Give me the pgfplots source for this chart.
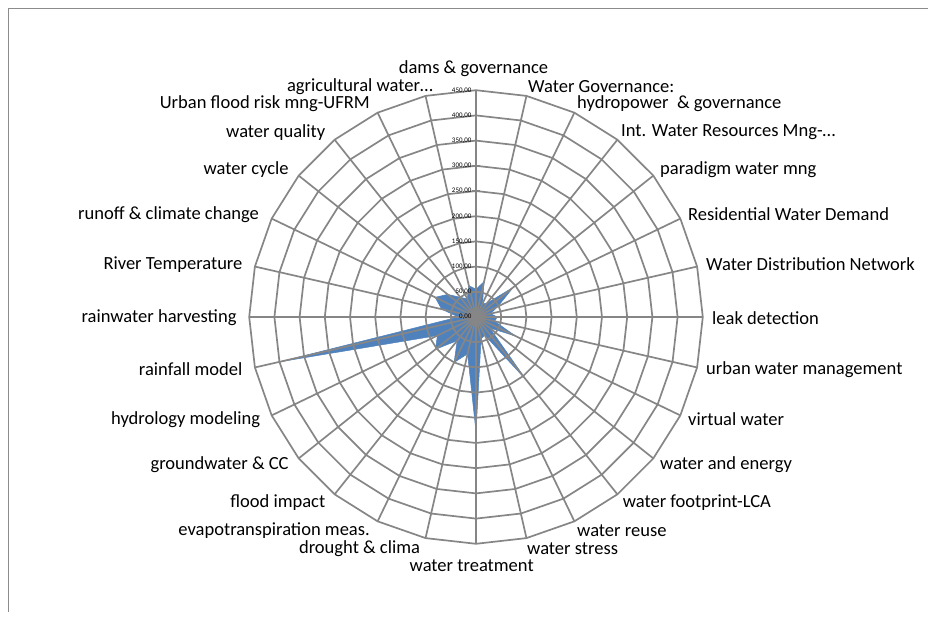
\documentclass[border=0pt]{standalone}
\usepackage{pgfplots}
\pgfplotsset{compat=1.18}
\usepackage{pgfplotstable}
\usepackage{fontspec}
\setmainfont{Carlito}
\definecolor{gridgray}{HTML}{868686}
\definecolor{fillblue}{HTML}{4F81BD}
\definecolor{framegray}{HTML}{8C8C8C}

% i = category index (clockwise from top), v = value; last row closes the polygon
\pgfplotstableread{
i v
0 55
1 72
2 30
3 35
4 95
5 48
6 30
7 42
8 38
9 87
10 35
11 160
12 40
13 45
14 228
15 75
16 100
17 60
18 103
19 85
20 400
21 35
22 70
23 90
24 72
25 50
26 40
27 64
28 55
}\radardata

\pgfplotstableread{
r
0
50
100
150
200
250
300
350
400
450
}\ticktable

\newcommand{\lab}{\fontsize{18.6}{20}\selectfont}
\begin{document}
\begin{tikzpicture}
\useasboundingbox (0,0) rectangle (928bp,-623bp);
\fill[white] (0,0) rectangle (928bp,-623bp);
\draw[framegray, line width=1bp] (8bp,-612bp) -- (8bp,-8bp) -- (928bp,-8bp);
\begin{axis}[at={(476bp,-317bp)}, anchor=origin,
  x=0.504bp, y=0.504bp,
  xmin=-460, xmax=460, ymin=-460, ymax=460,
  hide axis, clip=false,
  /pgf/number format/.cd, fixed, fixed zerofill, precision=2, use comma, assume math mode=true]
\addplot[fill=fillblue, draw=fillblue, line width=0.5bp, data cs=polar]
  table[x expr={90-\thisrow{i}*360/28}, y=v] {\radardata};
\pgfplotsinvokeforeach{50,100,...,450}{
  \addplot[gridgray, line width=1.7bp, data cs=polar]
    table[x expr={90-\thisrow{i}*360/28}, y expr=#1] {\radardata};
}
\pgfplotsinvokeforeach{0,...,27}{
  \addplot[gridgray, line width=1.7bp, data cs=polar]
    coordinates {({90-#1*360/28},0) ({90-#1*360/28},450)};
}
\addplot[gridgray, only marks, mark=-, mark size=4bp, mark options={line width=1.2bp},
  nodes near coords, point meta=y,
  every node near coord/.append style={anchor=east, inner sep=0pt, xshift=-4bp,
    text=black, font=\fontsize{7}{7}\selectfont}]
  table[x expr=0, y=r] {\ticktable};
\end{axis}
\begin{scope}[every node/.style={inner sep=0pt, font=\lab, text=black}]
\node[anchor=center] at (473.5bp,-68.3bp) {dams \& governance};
\node[anchor=west] at (528bp,-86.2bp) {Water Governance:};
\node[anchor=west] at (577bp,-103.3bp) {hydropower\ \ \& governance};
\node[anchor=west] at (621bp,-132.3bp) {Int. Water Resources Mng-\ldots};
\node[anchor=west] at (660bp,-169.6bp) {paradigm water mng};
\node[anchor=west] at (688bp,-214.5bp) {Residential Water Demand};
\node[anchor=west] at (706bp,-264.2bp) {Water Distribution Network};
\node[anchor=west] at (712bp,-317.9bp) {leak detection};
\node[anchor=west] at (706bp,-369.5bp) {urban water management};
\node[anchor=west] at (688bp,-419.2bp) {virtual water};
\node[anchor=west] at (660bp,-464.9bp) {water and energy};
\node[anchor=west] at (622.6bp,-502.6bp) {water footprint-LCA};
\node[anchor=west] at (577bp,-530.4bp) {water reuse};
\node[anchor=west] at (527bp,-548.3bp) {water stress};
\node[anchor=center] at (471.7bp,-566.2bp) {water treatment};
\node[anchor=east] at (420.2bp,-548.3bp) {drought \& clima};
\node[anchor=east] at (370bp,-530.4bp) {evapotranspiration meas.};
\node[anchor=east] at (325.5bp,-502.6bp) {flood impact};
\node[anchor=east] at (288.8bp,-464.9bp) {groundwater \& CC};
\node[anchor=east] at (260.4bp,-419.2bp) {hydrology modeling};
\node[anchor=east] at (242.6bp,-369.5bp) {rainfall model};
\node[anchor=east] at (236.7bp,-317.9bp) {rainwater harvesting};
\node[anchor=east] at (242.6bp,-264.2bp) {River Temperature};
\node[anchor=east] at (259.2bp,-214.5bp) {runoff \& climate change};
\node[anchor=east] at (288.8bp,-169.6bp) {water cycle};
\node[anchor=east] at (325.5bp,-132.3bp) {water quality};
\node[anchor=east] at (370bp,-103.3bp) {Urban flood risk mng-UFRM};
\node[anchor=east] at (433bp,-86.2bp) {agricultural water\ldots};
\end{scope}
\end{tikzpicture}
\end{document}
